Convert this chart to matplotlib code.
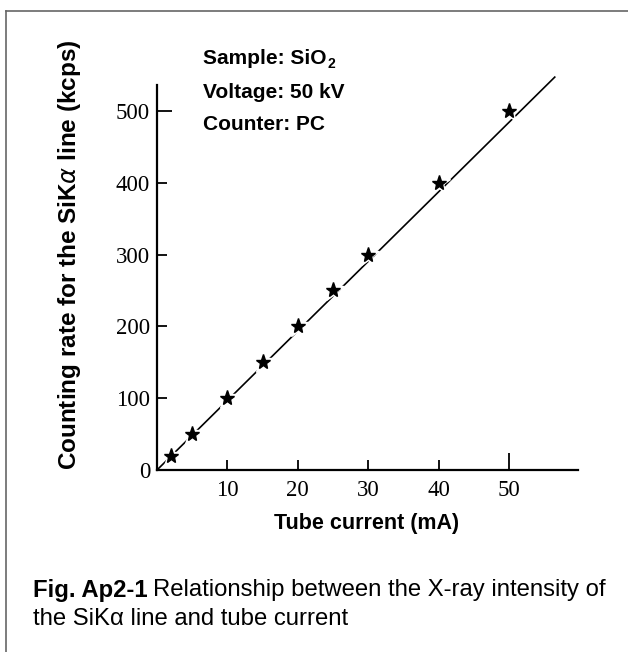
import matplotlib
matplotlib.use("Agg")
import matplotlib.pyplot as plt
from matplotlib.lines import Line2D

current = [2, 5, 10, 15, 20, 25, 30, 40, 50]
rate = [20, 50, 100, 150, 200, 250, 300, 400, 500]
fit_x = [0, 56.5]
fit_y = [0, 547]
xticks = [10, 20, 30, 40, 50]
yticks = [0, 100, 200, 300, 400, 500]

sans = ["Liberation Sans", "DejaVu Sans"]
serif = ["Liberation Serif", "DejaVu Serif"]

W, H = 628, 652
fig = plt.figure(figsize=(W/100, H/100), dpi=100)
ax = fig.add_axes([157/W, 1-470/H, (578-157)/W, (470-85)/H])
ax.set_xlim(0, 59.8)
ax.set_ylim(0, 536)

ax.plot(fit_x, fit_y, color="black", lw=1.2, zorder=2, clip_on=False)
ax.plot(current, rate, linestyle="none", marker="*", ms=17, color="white", zorder=3, clip_on=False)
ax.plot(current, rate, linestyle="none", marker="*", ms=11, color="black", zorder=4, clip_on=False)

for s in ["top", "right"]:
    ax.spines[s].set_visible(False)
for s in ["left", "bottom"]:
    ax.spines[s].set_linewidth(1.6)

ax.set_xticks(xticks)
ax.set_yticks(yticks)
ax.set_xticklabels([str(v) for v in xticks], family=serif, fontsize=16.5)
ax.set_yticklabels([str(v) for v in yticks], family=serif, fontsize=16.5)
ax.tick_params(direction="in", length=7, width=1.3)
ax.tick_params(axis="x", pad=7)
ax.tick_params(axis="y", pad=5)
ax.xaxis.get_major_ticks()[4].tick1line.set_markersize(12)
ax.yaxis.get_major_ticks()[5].tick1line.set_markersize(11)

fig.text(367/W, 1-523/H, "Tube current (mA)", family=sans, fontsize=15.5,
         fontweight="bold", ha="center", va="center")
fig.text(70/W, 1-255/H, r"Counting rate for the SiK$\alpha$ line (kcps)", family=sans,
         fontsize=17.5, fontweight="bold", rotation=90, ha="center", va="center")

ts = fig.text(203/W, 1-58/H, "Sample: SiO", family=sans, fontsize=15,
              fontweight="bold", va="center")
fig.canvas.draw()
sb = ts.get_window_extent()
fig.text((sb.x1 + 1)/W, 1-64/H, "2", family=sans, fontsize=10,
         fontweight="bold", va="center")
fig.text(203/W, 1-92/H, "Voltage: 50 kV", family=sans, fontsize=15,
         fontweight="bold", va="center")
fig.text(203/W, 1-125/H, "Counter: PC", family=sans, fontsize=15,
         fontweight="bold", va="center")

fig.add_artist(Line2D([6/W, 1], [1-11/H, 1-11/H], color="#666666", lw=1.2))
fig.add_artist(Line2D([6/W, 6/W], [0, 1-11/H], color="#666666", lw=1.2))

t1 = fig.text(33/W, 1-590/H, "Fig. Ap2-1", family=sans, fontsize=17.2,
              fontweight="bold", va="center")
fig.canvas.draw()
bb = t1.get_window_extent()
fig.text((bb.x1 + 5)/W, 1-590/H, "Relationship between the X-ray intensity of",
         family=sans, fontsize=17.2, va="center")
fig.text(33/W, 1-619/H, "the SiKα line and tube current",
         family=sans, fontsize=17.2, va="center")

fig.savefig("out.png", dpi=100)
